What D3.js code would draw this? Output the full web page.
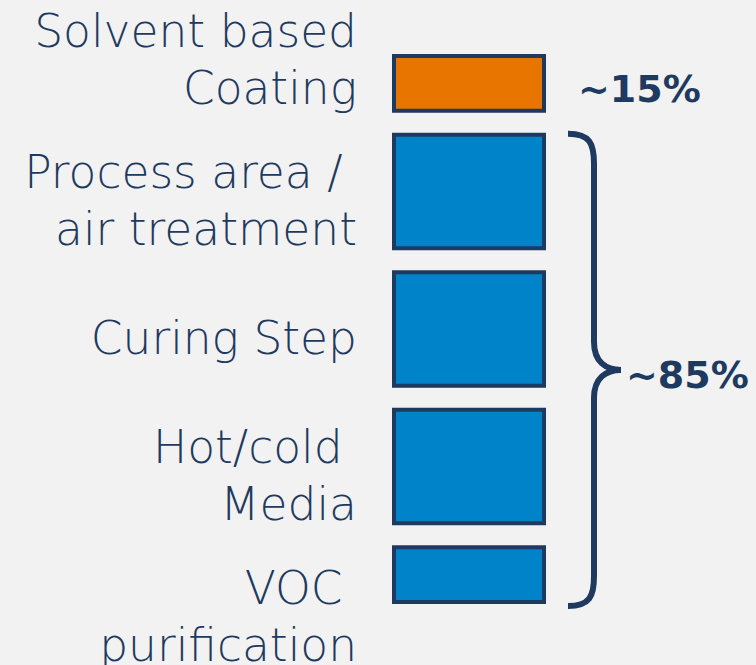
<!DOCTYPE html>
<html>
<head>
<meta charset="utf-8">
<script src="https://cdn.jsdelivr.net/npm/d3@7"></script>
<style>
  html, body { margin: 0; padding: 0; background: #f2f2f2; }
  svg { display: block; font-family: "DejaVu Sans", sans-serif; }
</style>
</head>
<body>
<svg width="756" height="665"></svg>
<script>
// categories, top to bottom
const categories = ["Solvent based Coating", "Process area / air treatment", "Curing Step", "Hot/cold Media", "VOC purification"];
const labelLines = [["Solvent based", "Coating"], ["Process area / ", "air treatment"], ["Curing Step"], ["Hot/cold ", "Media"], ["VOC ", "purification"]];
// relative block size of each step
const sizes = [1, 2, 2, 2, 1];
const groups = ["solvent", "other", "other", "other", "other"];
const shares = [{ group: "solvent", label: "~15%" }, { group: "other", label: "~85%" }];

const navy = "#1f3a60";
const colour = d3.scaleOrdinal().domain(["solvent", "other"]).range(["#e87500", "#0083c8"]);

const svg = d3.select("svg");
const top0 = 54, gap = 20, blockH = 550 - gap * (sizes.length - 1);
const barX = 392, barW = 154, sw = 4;
const lineH = 57;
const labelNudge = [-33, 0, 0, 0, 33];

const cum = d3.cumsum([0].concat(sizes));
const y = d3.scaleLinear().domain([0, d3.sum(sizes)]).range([0, blockH]);

const bars = categories.map((c, i) => ({
  name: c,
  lines: labelLines[i],
  group: groups[i],
  y0: top0 + y(cum[i]) + i * gap,
  y1: top0 + y(cum[i + 1]) + i * gap
}));

svg.append("g")
  .selectAll("rect")
  .data(bars)
  .enter().append("rect")
  .attr("x", barX + sw / 2)
  .attr("y", d => d.y0 + sw / 2)
  .attr("width", barW - sw)
  .attr("height", d => d.y1 - d.y0 - sw)
  .attr("fill", d => colour(d.group))
  .attr("stroke", navy)
  .attr("stroke-width", sw);

const label = svg.append("g")
  .selectAll("text")
  .data(bars)
  .enter().append("text")
  .attr("text-anchor", "end")
  .attr("fill", navy)
  .attr("font-size", 45.5)
  .attr("font-weight", 300)
  .style("white-space", "pre")
  .attr("transform", (d, i) => {
    const mid = (d.y0 + d.y1) / 2 + 9 + labelNudge[i];
    const first = mid - (d.lines.length - 1) * lineH / 2 + 16;
    return `translate(357,${first})`;
  });

label.selectAll("tspan")
  .data(d => d.lines)
  .enter().append("tspan")
  .attr("x", 0)
  .attr("y", (d, i) => i * lineH)
  .text(d => d);

// ~15% next to the orange bar
const solvent = bars.filter(d => d.group === "solvent");
const other = bars.filter(d => d.group === "other");
svg.append("text")
  .attr("x", barX + barW + 32)
  .attr("y", (solvent[0].y0 + solvent[solvent.length - 1].y1) / 2 + 19)
  .attr("fill", navy)
  .attr("font-size", 38)
  .attr("font-weight", "bold")
  .text(shares[0].label);

// brace around the rest
const bTop = other[0].y0 + 1, bBot = other[other.length - 1].y1 + 2;
const bMid = (bTop + bBot) / 2;
const bx0 = 568, bx1 = 594, bTip = 621;
const p = d3.path();
p.moveTo(bx0, bTop);
p.bezierCurveTo(bx1 - 4, bTop, bx1, bTop + 10, bx1, bTop + 30);
p.lineTo(bx1, bMid - 28);
p.bezierCurveTo(bx1, bMid - 8, bx1 + 12, bMid, bTip, bMid);
p.bezierCurveTo(bx1 + 12, bMid, bx1, bMid + 8, bx1, bMid + 28);
p.lineTo(bx1, bBot - 30);
p.bezierCurveTo(bx1, bBot - 10, bx1 - 4, bBot, bx0, bBot);

svg.append("path")
  .attr("d", p.toString())
  .attr("fill", "none")
  .attr("stroke", navy)
  .attr("stroke-width", 6);

svg.append("text")
  .attr("x", bTip + 5)
  .attr("y", bMid + 18)
  .attr("fill", navy)
  .attr("font-size", 38)
  .attr("font-weight", "bold")
  .text(shares[1].label);
</script>
</body>
</html>
